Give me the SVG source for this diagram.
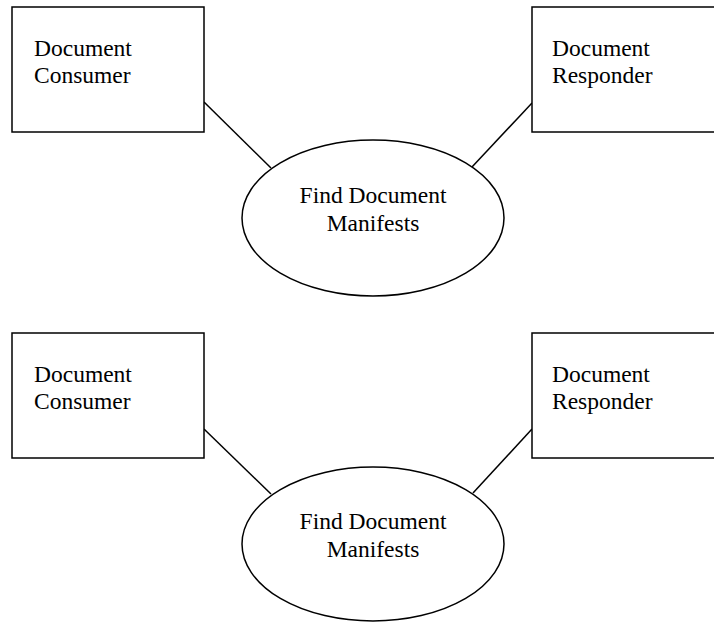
<svg xmlns="http://www.w3.org/2000/svg" width="714" height="622" viewBox="0 0 714 622">
<style>
.box{fill:#fff;stroke:#000;stroke-width:1.5}
.conn line{stroke:#000;stroke-width:1.5}
text{font-family:"Liberation Serif","Times New Roman",serif;font-size:23.5px;fill:#000}
.c{text-anchor:middle}
</style>
<rect width="714" height="622" fill="#fff"/>
<g id="connectors" class="conn">
<line x1="204" y1="102" x2="271" y2="168"/>
<line x1="532" y1="103" x2="472" y2="167"/>
<line x1="204" y1="429" x2="271" y2="494"/>
<line x1="532" y1="429" x2="473" y2="493"/>
</g>
<g id="consumer1">
<rect class="box" x="12" y="7" width="192" height="125"/>
<text x="34" y="56">Document</text>
<text x="34" y="83">Consumer</text>
</g>
<g id="responder1">
<rect class="box" x="532" y="7" width="200" height="125"/>
<text x="552" y="56">Document</text>
<text x="552" y="83">Responder</text>
</g>
<g id="find1">
<ellipse class="box" cx="373" cy="218" rx="131" ry="78"/>
<text class="c" x="373" y="203">Find Document</text>
<text class="c" x="373" y="231">Manifests</text>
</g>
<g id="consumer2">
<rect class="box" x="12" y="333" width="192" height="125"/>
<text x="34" y="382">Document</text>
<text x="34" y="409">Consumer</text>
</g>
<g id="responder2">
<rect class="box" x="532" y="333" width="200" height="125"/>
<text x="552" y="382">Document</text>
<text x="552" y="409">Responder</text>
</g>
<g id="find2">
<ellipse class="box" cx="373" cy="544" rx="131" ry="77"/>
<text class="c" x="373" y="529">Find Document</text>
<text class="c" x="373" y="557">Manifests</text>
</g>
</svg>
